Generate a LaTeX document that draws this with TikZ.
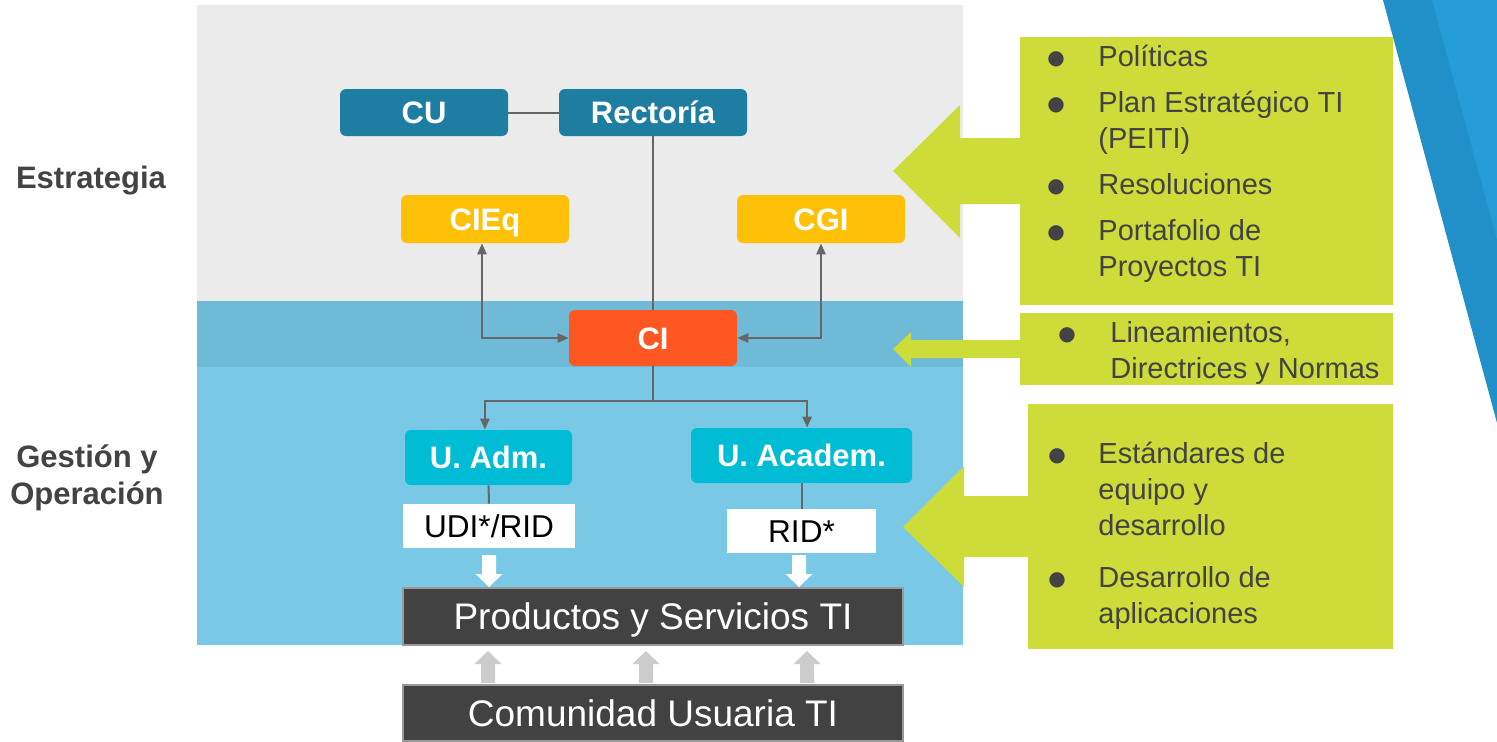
\documentclass[tikz,border=0pt]{standalone}
\usepackage{fontspec}
\setmainfont{Liberation Sans}
\newfontfamily\symfont{DejaVu Sans}
\usetikzlibrary{arrows.meta}
\definecolor{panelgray}{HTML}{EBEBEB}
\definecolor{bandblue}{HTML}{6FBAD6}
\definecolor{lightblue}{HTML}{79C9E6}
\definecolor{limegreen}{HTML}{CDDC39}
\definecolor{teal}{HTML}{1E7EA1}
\definecolor{amber}{HTML}{FFC107}
\definecolor{deeporange}{HTML}{FF5722}
\definecolor{cyanbox}{HTML}{00BCD4}
\definecolor{darkbox}{HTML}{424242}
\definecolor{connline}{HTML}{666666}
\definecolor{textgray}{HTML}{434343}
\definecolor{arrowgray}{HTML}{CCCCCC}
\definecolor{tridark}{HTML}{2290C8}
\definecolor{trilight}{HTML}{259DD9}
\newcommand{\lbul}{\raisebox{1pt}{\symfont\fontsize{10}{18}\selectfont ●}}
\begin{document}
\begin{tikzpicture}[x=0.5pt,y=-0.5pt,
  orgbox/.style={rounded corners=3pt, inner sep=0pt, text=white,
    text height=11.1pt, text depth=0pt,
    font=\fontsize{15.5}{18}\selectfont\bfseries},
  whitebox/.style={fill=white, inner sep=0pt, text=black,
    text height=11.3pt, text depth=0pt,
    font=\fontsize{15.8}{18}\selectfont},
  barbox/.style={fill=darkbox, draw=gray!80, line width=0.6pt, inner sep=0pt,
    text=white, text height=13.2pt, text depth=0pt,
    font=\fontsize{18.5}{22}\selectfont},
  conn/.style={draw=connline, line width=1pt},
  tipped/.style={-{Triangle[length=5.5pt,width=4.6pt]}},
  twotip/.style={{Triangle[length=5.5pt,width=4.6pt]}-{Triangle[length=5.5pt,width=4.6pt]}},
  sidelabel/.style={text=textgray, align=center, font=\fontsize{15.5}{18.5}\selectfont\bfseries},
  listtext/.style={anchor=north west, inner sep=0pt, text=textgray,
    font=\fontsize{14.5}{18}\selectfont},
  pics/downarrow/.style={code={\fill[white] (-7,0) -- (7,0) -- (7,19) -- (13.5,19) -- (0,32) -- (-13.5,19) -- (-7,19) -- cycle;}},
  pics/uparrow/.style={code={\fill[arrowgray] (0,0) -- (13.5,13) -- (7,13) -- (7,32) -- (-7,32) -- (-7,13) -- (-13.5,13) -- cycle;}}
]
\useasboundingbox (0,0) rectangle (1497,741);
\fill[white] (0,0) rectangle (1497,741);

% background bands
\fill[panelgray] (197,5) rectangle (963,301);
\fill[bandblue] (197,301) rectangle (963,367);
\fill[lightblue] (197,367) rectangle (963,645);

% decorative triangles
\fill[tridark] (1383,0) -- (1497,0) -- (1497,423) -- cycle;
\fill[trilight] (1432,0) -- (1497,0) -- (1497,240) -- cycle;

% green boxes and arrows
\fill[limegreen] (1020,37) rectangle (1393,305);
\fill[limegreen] (893,171) -- (960,105) -- (960,138) -- (1021,138) -- (1021,204) -- (960,204) -- (960,238) -- cycle;
\fill[limegreen] (1020,313) rectangle (1393,385);
\fill[limegreen] (893,349) -- (911,332) -- (911,340) -- (1021,340) -- (1021,358) -- (911,358) -- (911,367) -- cycle;
\fill[limegreen] (1028,404) rectangle (1393,649);
\fill[limegreen] (903,527) -- (964,466) -- (964,496) -- (1029,496) -- (1029,557) -- (964,557) -- (964,587) -- cycle;

\node[listtext] (list1) at (1047,40.8) {%
\begin{tabular}{@{}p{25.5pt}@{}l@{}}
\lbul & Políticas\\[5pt]
\lbul & Plan Estratégico TI\\
 & (PEITI)\\[5pt]
\lbul & Resoluciones\\[5pt]
\lbul & Portafolio de\\
 & Proyectos TI
\end{tabular}};
\node[listtext] (list2) at (1058,316.8) {%
\begin{tabular}{@{}p{26pt}@{}l@{}}
\lbul & Lineamientos,\\
 & Directrices y Normas
\end{tabular}};
\node[listtext] (list3) at (1048,437.8) {%
\begin{tabular}{@{}p{25pt}@{}l@{}}
\lbul & Estándares de\\
 & equipo y\\
 & desarrollo\\[8pt]
\lbul & Desarrollo de\\
 & aplicaciones
\end{tabular}};

% side labels
\node[sidelabel] (lblE) at (91,181) {Estrategia};
\node[sidelabel] (lblG) at (87,478) {Gestión y\\Operación};

% organisation nodes
\node[orgbox, fill=teal, minimum width=84pt, minimum height=23.5pt] (CU) at (424,112.5) {CU};
\node[orgbox, fill=teal, minimum width=94pt, minimum height=23.5pt] (Rect) at (653,112.5) {Rectoría};
\node[orgbox, fill=amber, minimum width=84pt, minimum height=24pt] (CIEq) at (485,219) {CIEq};
\node[orgbox, fill=amber, minimum width=84pt, minimum height=24pt] (CGI) at (821,219) {CGI};
\node[orgbox, fill=deeporange, minimum width=84pt, minimum height=28pt] (CI) at (653,338) {CI};
\node[orgbox, fill=cyanbox, minimum width=83.5pt, minimum height=27.5pt] (UAdm) at (488.5,457.5) {U. Adm.};
\node[orgbox, fill=cyanbox, minimum width=110.5pt, minimum height=27.5pt] (UAcad) at (801.5,455.5) {U. Academ.};
\node[whitebox, minimum width=86pt, minimum height=22pt] (UDI) at (489,526) {UDI*/RID};
\node[whitebox, minimum width=74.5pt, minimum height=22pt] (RID) at (801.5,531) {RID*};
\node[barbox, minimum width=250pt, minimum height=28.5pt] (Prod) at (653,616.5) {Productos y Servicios TI};
\node[barbox, minimum width=250pt, minimum height=28pt] (Com) at (653,713) {Comunidad Usuaria TI};

% connectors
\draw[conn] (CU) -- (Rect);
\draw[conn] (Rect.south) -- (CI.north);
\draw[conn, twotip] ([xshift=-1.5pt]CIEq.south) |- (CI.west);
\draw[conn, twotip] (CGI.south) |- (CI.east);
\coordinate (split) at (653,401);
\draw[conn] (CI.south) -- (split);
\draw[conn, tipped] (split) -| ([xshift=-1.8pt]UAdm.north);
\draw[conn, tipped] (split) -| ([xshift=2.8pt]UAcad.north);
\draw[conn] (UAdm.south) -- (UDI.north);
\draw[conn] (UAcad.south) -- (RID.north);

% block arrows
\pic at (489,555) {downarrow};
\pic at (799,555) {downarrow};
\pic at (488,651) {uparrow};
\pic at (646,651) {uparrow};
\pic at (807,651) {uparrow};
\end{tikzpicture}
\end{document}
